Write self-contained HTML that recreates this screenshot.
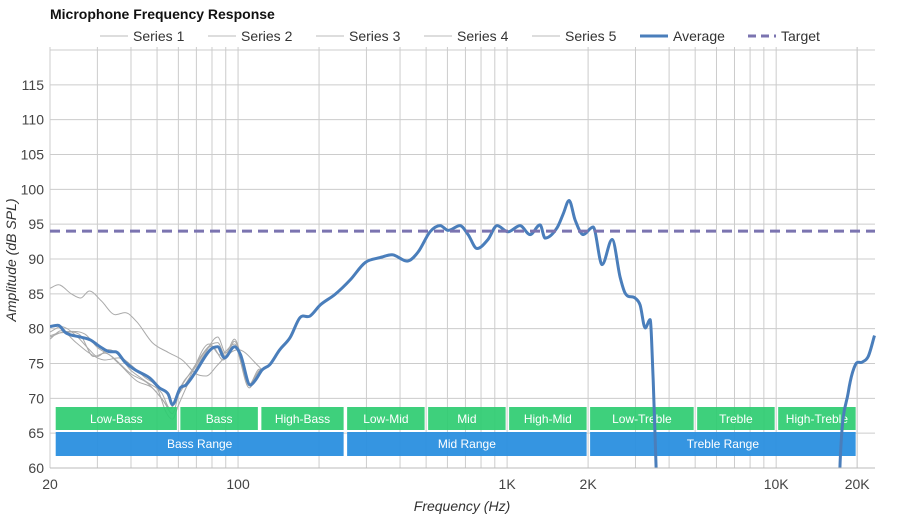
<!DOCTYPE html>
<html><head><meta charset="utf-8"><style>
html,body{margin:0;padding:0;width:900px;height:520px;background:#fff;font-family:"Liberation Sans",sans-serif;overflow:hidden}
svg{display:block}
svg text{font-family:"Liberation Sans",sans-serif}
</style></head><body>
<svg id="c" width="900" height="520" xmlns="http://www.w3.org/2000/svg">
<text x="50" y="19" font-size="14" font-weight="bold" fill="#111">Microphone Frequency Response</text>
<g id="legend"></g>
<g id="grid"></g>
<g id="series"></g>
<g id="bands"></g>
<g id="avg"></g>
<g id="axes"></g>
<text x="462" y="511" font-size="14" font-style="italic" text-anchor="middle" fill="#333">Frequency (Hz)</text>
<text transform="translate(16,260) rotate(-90)" font-size="14" font-style="italic" text-anchor="middle" fill="#333">Amplitude (dB SPL)</text>
</svg>
<script>
const avgFreq=[20,21.4,22.9,25.9,28.2,30.7,33.4,35,38,41.4,47,51,55,57,61,64,69,79,84,89,97,102,111,116,123,131,143,156,170,185,202,229,261,297,337,373,425,467,517,564,604,668,716,773,849,918,1008,1117,1217,1326,1384,1534,1614,1700,1790,1917,2088,2254,2457,2630,2746,2990,3120,3260,3400,3490,3580,3770,16700,17300,18520,19680,20890,21980,23200];
const avgDb=[80.3,80.5,79.4,78.8,78.4,77.4,76.7,76.7,75.2,74.1,72.9,71.5,70.6,69.1,71.5,71.9,73.6,77.0,77.4,75.8,77.4,76.3,71.9,72.6,74.1,74.8,77.0,78.7,81.6,81.8,83.4,84.9,87.0,89.5,90.2,90.6,89.7,91.0,93.9,94.8,94.1,94.8,93.5,91.5,92.8,94.8,93.9,94.8,93.5,94.9,93.0,94.5,96.4,98.4,95.6,93.5,94.6,89.2,92.8,87.4,85.1,84.4,83.4,80.1,81.3,72.6,60.1,40,40,61.1,70.8,74.8,75.2,76.0,79.0];
const s1Freq=[20,21.5,24,26,28,31,35,38,42,48,55,62,70,76,84,90,100,120];
const s1Db=[85.8,86.3,85,84.4,85.4,84,82,82.3,81,78,76.6,75.5,73.5,73.2,74.8,76,77,74.5];
const s2Freq=[20,22,25,28,30,33,38,45,50,54,57,60,65,75,84,90,97,110,120];
const s2Db=[79.5,80.3,79,77,76,77,75.5,73,71.5,68,67,69,72,76.3,78.8,76.5,78.5,72,74];
const s3Freq=[20,22,25,28,32,36,40,46,52,56,60,66,78,84,90,97,110,120];
const s3Db=[78.5,79.7,78,76.5,75.5,75.8,74,72.3,70.8,68.5,71,73.5,77.5,78,76,78.2,71.8,74];
const s4Freq=[20,22,26,29,32,36,42,48,53,57,61,68,80,88,97,110,120];
const s4Db=[79,79.4,79,76,76.5,75,72.5,71.5,69.5,67.8,71.5,74,77.5,75.5,77.5,71.5,74];
const s5Freq=[20,23,27,30,34,40,46,52,56,60,66,78,86,97,110,120];
const s5Db=[78.8,79.6,79.2,77.3,76,73.5,72.2,70,68.6,70.5,73,77.8,76.2,77.8,72,74.2];
const targetDb=94;
const yTicks=[60,65,70,75,80,85,90,95,100,105,110,115];
const xTickVals=[20,100,1000,2000,10000,20000];
const xTickLabels=["20","100","1K","2K","10K","20K"];
const bandNames=["Low-Bass","Bass","High-Bass","Low-Mid","Mid","High-Mid","Low-Treble","Treble","High-Treble"];
const bandEdges=[21,60,120,250,500,1000,2000,5000,10000,20000];
const rangeNames=["Bass Range","Mid Range","Treble Range"];
const rangeEdges=[21,250,2000,20000];

const L=50,R=875,T=50,B=468,fMin=20,fMax=23300,dMin=60,dMax=120;
const X=f=>L+(Math.log10(f)-Math.log10(fMin))/(Math.log10(fMax)-Math.log10(fMin))*(R-L);
const Y=d=>B-(d-dMin)/(dMax-dMin)*(B-T);
const NS="http://www.w3.org/2000/svg";
function mk(tag,attrs,parent){const e=document.createElementNS(NS,tag);for(const k in attrs)e.setAttribute(k,attrs[k]);parent.appendChild(e);return e;}
function smooth(pts){
 const n=pts.length,s=[],m=[];
 for(let i=0;i<n-1;i++)s.push((pts[i+1][1]-pts[i][1])/(pts[i+1][0]-pts[i][0]));
 for(let i=0;i<n;i++){if(i==0)m.push(s[0]);else if(i==n-1)m.push(s[n-2]);else m.push(s[i-1]*s[i]<=0?0:(s[i-1]+s[i])/2);}
 let d=`M${pts[0][0].toFixed(1)},${pts[0][1].toFixed(1)}`;
 for(let i=0;i<n-1;i++){const dx=pts[i+1][0]-pts[i][0];
  d+=`C${(pts[i][0]+dx/3).toFixed(1)},${(pts[i][1]+m[i]*dx/3).toFixed(1)} ${(pts[i+1][0]-dx/3).toFixed(1)},${(pts[i+1][1]-m[i+1]*dx/3).toFixed(1)} ${pts[i+1][0].toFixed(1)},${pts[i+1][1].toFixed(1)}`;}
 return d;}

const grid=document.getElementById('grid');
for(let dec=10;dec<=10000;dec*=10){for(let mm=1;mm<10;mm++){const f=dec*mm;if(f<20||f>fMax)continue;const x=X(f);const g=mk('line',{x1:x,x2:x,y1:T-3,y2:B,stroke:'#cccccc','stroke-width':1},grid);}}
{const x=X(20000);const g=mk('line',{x1:x,x2:x,y1:T-3,y2:B,stroke:'#cccccc'},grid);}
for(let d=60;d<=120;d+=5){const y=Y(d);const g=mk('line',{x1:L,x2:R,y1:y,y2:y,stroke:'#cccccc'},grid);}
const axes=document.getElementById('axes');
mk('line',{x1:L,x2:R,y1:B,y2:B,stroke:'#bbb'},axes);
yTicks.forEach(v=>{const t=mk('text',{x:44,y:Y(v)+5,'font-size':14,'text-anchor':'end',fill:'#444'},axes);t.textContent=v;});
xTickVals.forEach((v,i)=>{const t=mk('text',{x:X(v),y:489,'font-size':14,'text-anchor':'middle',fill:'#444'},axes);t.textContent=xTickLabels[i];});

const clip=mk('clipPath',{id:'pc'},document.getElementById('c'));mk('rect',{x:L,y:T,width:R-L+2,height:B-T},clip);
const ser=document.getElementById('series');ser.setAttribute('clip-path','url(#pc)');
[[s1Freq,s1Db],[s2Freq,s2Db],[s3Freq,s3Db],[s4Freq,s4Db],[s5Freq,s5Db]].forEach((s,i)=>{
 const pts=s[0].map((f,j)=>[X(f),Y(s[1][j])]);
 avgFreq.forEach((f,j)=>{if(f>s[0][s[0].length-1])pts.push([X(f),Y(avgDb[j])]);});
 const p=mk('path',{d:smooth(pts),fill:'none',stroke:'#aaaaaa','stroke-width':1},ser);
 
 
});
const av=document.getElementById('avg');av.setAttribute('clip-path','url(#pc)');
const ap=mk('path',{d:smooth(avgFreq.map((f,j)=>[X(f),Y(avgDb[j])])),fill:'none',stroke:'#4a7ebb','stroke-width':3},av);


const tl=mk('line',{x1:L,x2:R,y1:Y(targetDb),y2:Y(targetDb),stroke:'#7b74b0','stroke-width':3,'stroke-dasharray':'10 6'},av);



const bands=document.getElementById('bands');
bandNames.forEach((n,i)=>{const x1=X(bandEdges[i])+(i?2:0),x2=X(bandEdges[i+1])-1.5;
 const r=mk('rect',{x:x1,y:407,width:x2-x1,height:23,fill:'#2ecc71','fill-opacity':0.92},bands);
 
 
 const t=mk('text',{x:(x1+x2)/2,y:423,'font-size':12,'text-anchor':'middle',fill:'#fff'},bands);t.textContent=n;
 
 });
rangeNames.forEach((n,i)=>{const x1=X(rangeEdges[i])+(i?2:0),x2=X(rangeEdges[i+1])-1.5;
 const r=mk('rect',{x:x1,y:432,width:x2-x1,height:24,fill:'#2a8fdf','fill-opacity':0.95},bands);
 
 
 const t=mk('text',{x:(x1+x2)/2,y:448,'font-size':12,'text-anchor':'middle',fill:'#fff'},bands);t.textContent=n;
 
 });

const leg=document.getElementById('legend');
const legNames=["Series 1","Series 2","Series 3","Series 4","Series 5","Average","Target"];
const legX=[100,208,316,424,532,640,748];
legNames.forEach((n,i)=>{const g=mk('g',{},leg);
 
 
 let st=i<5?{stroke:'#bbbbbb','stroke-width':1}:i==5?{stroke:'#4a7ebb','stroke-width':3}:{stroke:'#7b74b0','stroke-width':3,'stroke-dasharray':'8 5'};
 mk('line',Object.assign({x1:legX[i],x2:legX[i]+28,y1:36,y2:36},st),g);
 const t=mk('text',{x:legX[i]+33,y:41,'font-size':14,fill:'#333'},g);t.textContent=n;});
</script>
</body></html>
